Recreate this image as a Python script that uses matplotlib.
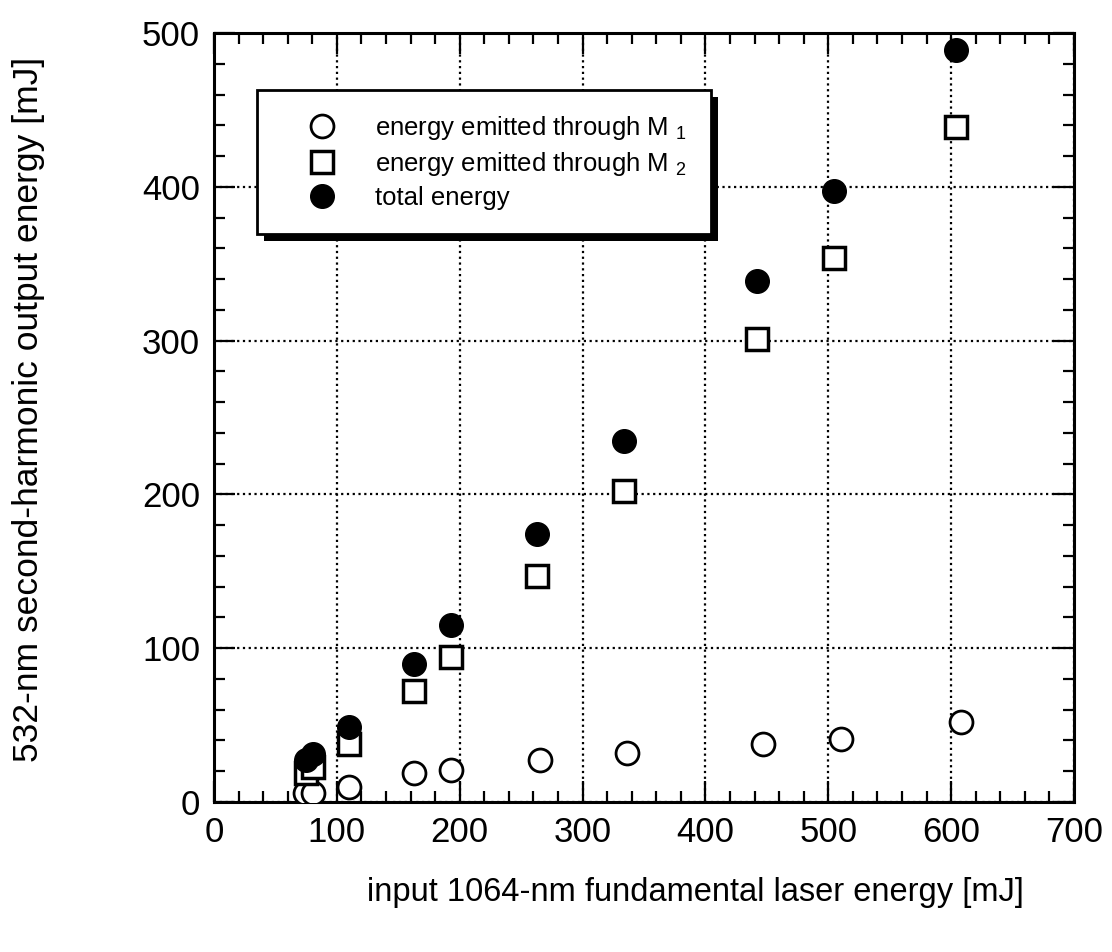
import matplotlib
matplotlib.use("Agg")
import matplotlib.pyplot as plt
from matplotlib.ticker import MultipleLocator
from matplotlib.patches import Rectangle

plt.rcParams['font.family'] = ['Liberation Sans', 'DejaVu Sans']
plt.rcParams['mathtext.fontset'] = 'custom'
plt.rcParams['mathtext.rm'] = 'Liberation Sans'
plt.rcParams['mathtext.it'] = 'Liberation Sans'

# input energy [mJ]
x_in = [75, 81, 110, 163, 193, 263, 334, 442, 505, 604]
x_m1 = [74, 81, 110, 163, 193, 265, 336, 447, 510, 608]
# output energies [mJ]
e_m1 = [6, 6, 10, 19, 21, 27, 32, 38, 41, 52]
e_m2 = [19, 23, 38, 72, 94, 147, 202, 301, 354, 439]
e_total = [27, 31, 49, 90, 115, 174, 235, 339, 397, 489]

fig = plt.figure(figsize=(11.12, 9.52), dpi=100)
ax = fig.add_axes([0.1924, 0.1576, 0.7734, 0.8077])

ax.plot(x_m1, e_m1, 'o', ms=16.5, mfc='white', mec='black', mew=2, ls='none',
        label='energy emitted through M $_1$', zorder=3)
ax.plot(x_in, e_m2, 's', ms=16, mfc='white', mec='black', mew=2.5, ls='none',
        label='energy emitted through M $_2$', zorder=3)
ax.plot(x_in, e_total, 'o', ms=17, mfc='black', mec='black', ls='none',
        label='total energy', zorder=4)

ax.set_xlim(0, 700)
ax.set_ylim(0, 500)
ax.xaxis.set_major_locator(MultipleLocator(100))
ax.xaxis.set_minor_locator(MultipleLocator(20))
ax.yaxis.set_major_locator(MultipleLocator(100))
ax.yaxis.set_minor_locator(MultipleLocator(20))
ax.tick_params(which='both', direction='in', top=True, right=True, width=1.6,
               color='black')
ax.tick_params(which='major', length=15, labelsize=25, pad=10)
ax.tick_params(which='minor', length=8)
for s in ax.spines.values():
    s.set_linewidth(2.2)

ax.grid(True, which='major', color='black', linestyle=(0, (1, 1.6)), linewidth=1.6)
ax.set_axisbelow(True)

ax.set_xlabel('input 1064-nm fundamental laser energy [mJ]', fontsize=23.5)
ax.set_ylabel('532-nm second-harmonic output energy [mJ]', fontsize=25.5)
ax.xaxis.set_label_coords(0.56, -0.098)
ax.yaxis.set_label_coords(-0.196, 0.51)

leg = ax.legend(loc='upper left', bbox_to_anchor=(0.05, 0.926), fontsize=18.5,
                frameon=True, fancybox=False, edgecolor='black', framealpha=1,
                borderpad=0.95, labelspacing=0.3, handletextpad=0.45,
                borderaxespad=0, handlelength=3.2)
leg.get_frame().set_linewidth(2)
leg.set_zorder(10)

# dark drop shadow behind the legend box
fig.canvas.draw()
bb = leg.get_window_extent()
shadow = Rectangle((bb.x0 + 7, bb.y0 - 7), bb.width, bb.height,
                   transform=None, facecolor='black', edgecolor='none', zorder=9)
ax.add_artist(shadow)

fig.savefig('out.png', dpi=100)
